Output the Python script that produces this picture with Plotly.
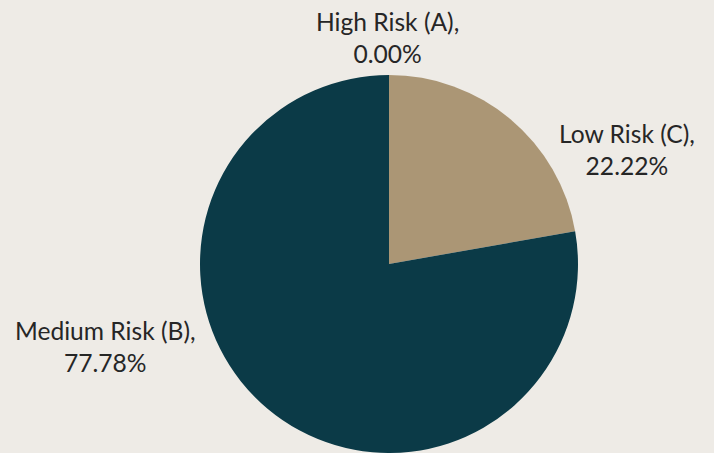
import plotly.graph_objects as go

labels = ["High Risk (A)", "Low Risk (C)", "Medium Risk (B)"]
values = [0, 2, 7]
colors = ["#8a2b2b", "#AB9675", "#0B3A47"]

# label placement (paper coordinates, layout only)
label_pos = [(388 / 714, 1 - 38 / 453), (627 / 714, 1 - 149 / 453), (105 / 714, 1 - 346 / 453)]

total = sum(values)
texts = [f"{lab},<br>{v / total * 100:.2f}%" for lab, v in zip(labels, values)]

fig = go.Figure(go.Pie(
    labels=labels,
    values=values,
    sort=False,
    direction="clockwise",
    rotation=0,
    marker=dict(colors=colors, line=dict(width=0)),
    textinfo="none",
    hoverinfo="label+percent",
    showlegend=False,
    automargin=False,
    domain=dict(x=[200/714, 578/714], y=[0, 378/453]),
))

for t, (x, y) in zip(texts, label_pos):
    fig.add_annotation(
        text=t, x=x, y=y, xref="paper", yref="paper",
        xanchor="center", yanchor="middle", showarrow=False, align="center",
        font=dict(family="Lato", size=24.6, color="#262626"),
    )

fig.update_layout(
    width=714, height=453,
    margin=dict(l=0, r=0, t=0, b=0),
    paper_bgcolor="#EEEBE6",
    plot_bgcolor="#EEEBE6",
    font=dict(family="Lato", size=24.6, color="#262626"),
)

fig.write_html("out.html")
